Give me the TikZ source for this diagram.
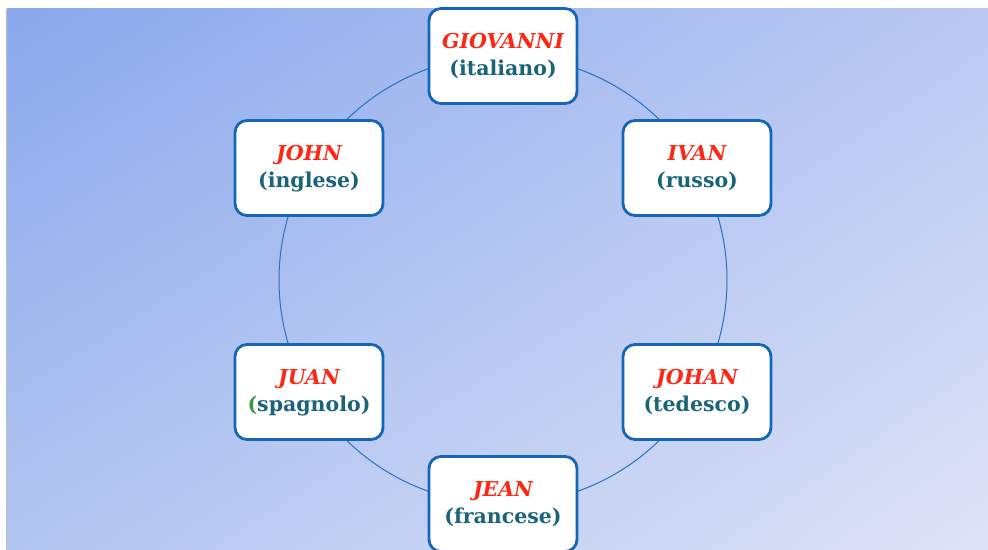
\documentclass[tikz,border=0pt]{standalone}
\usepackage{fontspec}
\usetikzlibrary{shadings}
\setmainfont{DejaVu Serif}
\definecolor{boxblue}{RGB}{22,102,182}
\definecolor{ringblue}{RGB}{40,112,192}
\definecolor{namered}{RGB}{255,38,20}
\definecolor{langteal}{RGB}{26,100,122}
\definecolor{parengreen}{RGB}{60,150,70}
\definecolor{bgUL}{RGB}{138,168,236}
\definecolor{bgUR}{RGB}{186,201,242}
\definecolor{bgLL}{RGB}{178,197,240}
\definecolor{bgLR}{RGB}{222,227,247}
\begin{document}
\begin{tikzpicture}[x=1pt,y=1pt,
  namebox/.style={draw=boxblue, line width=2.8pt, fill=white, rounded corners=12pt,
    minimum width=148pt, minimum height=95pt, align=center, text=langteal,
    inner ysep=0pt, text depth=3pt,
    font=\fontsize{20.5}{27}\selectfont\bfseries},
  ring/.style={draw=ringblue, line width=1pt}]
\useasboundingbox (0,0) rectangle (988,549);
\clip (0,0) rectangle (988,549);
\shade[upper left=bgUL, upper right=bgUR, lower left=bgLL, lower right=bgLR] (7,-2) rectangle (990,540);
\draw[black!25, line width=0.8pt] (6.6,-2) -- (6.6,540);
\coordinate (c) at (503,269);
\draw[ring] (c) circle (224);
\node[namebox] (giovanni) at (503,493) {{\color{namered}\itshape GIOVANNI}\\(italiano)};
\node[namebox] (ivan) at (697,381) {{\color{namered}\itshape IVAN}\\(russo)};
\node[namebox] (john) at (309,381) {{\color{namered}\itshape JOHN}\\(inglese)};
\node[namebox] (juan) at (309,157) {{\color{namered}\itshape JUAN}\\{\color{parengreen}(}spagnolo)};
\node[namebox] (johan) at (697,157) {{\color{namered}\itshape JOHAN}\\(tedesco)};
\node[namebox] (jean) at (503,45) {{\color{namered}\itshape JEAN}\\(francese)};
\end{tikzpicture}
\end{document}
